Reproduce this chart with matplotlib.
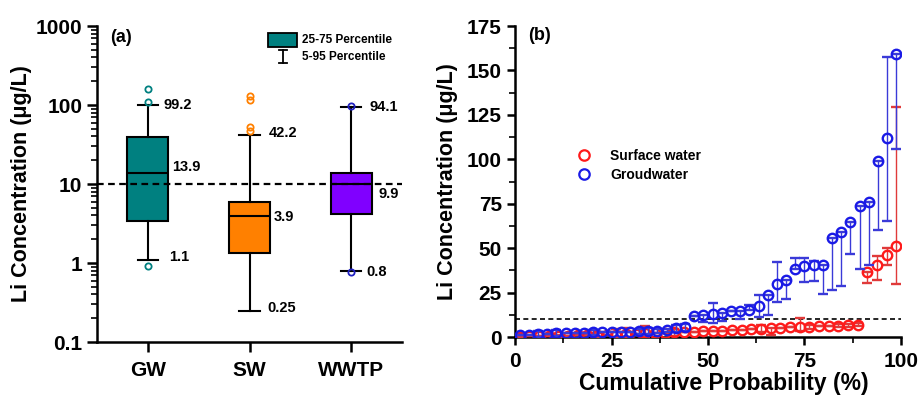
import matplotlib
matplotlib.use('Agg')
import matplotlib.pyplot as plt
from matplotlib.patches import Rectangle
from matplotlib.lines import Line2D
import numpy as np

plt.rcParams['font.family'] = ['Liberation Sans', 'DejaVu Sans']
plt.rcParams['font.weight'] = 'bold'

# ---- panel (a): box statistics ----
groups = ['GW', 'SW', 'WWTP']
q1 = [3.4, 1.34, 4.17]
med = [13.9, 3.9, 9.9]
q3 = [39.4, 5.9, 13.8]
p5 = [1.1, 0.25, 0.8]
p95 = [99.2, 42.2, 94.1]
fliers = [[0.91, 109, 159], [47, 52, 116, 130], [0.77, 97]]
box_colors = ['#008080', '#ff8000', '#8000ff']
flier_colors = ['#008080', '#ff8000', '#2020c0']
lab_hi = ['99.2', '42.2', '94.1']
lab_med = ['13.9', '3.9', '9.9']
lab_lo = ['1.1', '0.25', '0.8']

# ---- panel (b): cumulative probability series ----
gw_x = [1.2, 3.6, 6.0, 8.3, 10.7, 13.1, 15.5, 17.9, 20.2, 22.6, 25.0, 27.4, 29.8, 32.1,
        34.5, 36.9, 39.3, 41.7, 44.0, 46.4, 48.8, 51.2, 53.6, 56.0, 58.3, 60.7, 63.1, 65.5,
        67.9, 70.2, 72.6, 75.0, 77.4, 79.8, 82.1, 84.5, 86.9, 89.3, 91.7, 94.0, 96.4, 98.8]
gw_y = [1.3, 1.3, 1.7, 1.5, 2.2, 2.2, 2.4, 2.4, 2.6, 2.6, 2.6, 2.6, 2.8, 3.2,
        3.4, 3.4, 3.7, 5.0, 5.6, 11.6, 12.5, 12.9, 13.3, 14.4, 14.4, 15.2, 17.4, 23.4,
        30.0, 32.2, 38.2, 39.7, 40.3, 40.3, 55.5, 59.0, 64.5, 73.8, 75.9, 99.0, 112.0, 159.3]
gw_lo = [0, 0, 1.5, 0, 1.5, 0, 0, 0, 1.5, 0, 0, 0, 0, 1.5,
         1.5, 1.0, 1.0, 2.0, 2.0, 0, 4.0, 5.0, 4.0, 0, 4.0, 0, 6.0, 11.0,
         10.0, 11.0, 0, 8.7, 8.6, 16.0, 29.0, 30.0, 17.8, 35.6, 35.2, 38.7, 46.6, 53.6]
gw_hi = [0, 0, 1.5, 0, 1.5, 0, 0, 0, 1.5, 0, 0, 0, 0, 1.5,
         1.5, 1.0, 1.0, 2.0, 2.0, 0, 0, 6.1, 0, 0, 0, 3.0, 6.0, 0,
         12.0, 0, 6.0, 5.0, 2.5, 0, 0, 0, 0, 0, 0, 0, 45.8, 0]

sw_x = [1.25, 3.75, 6.25, 8.75, 11.25, 13.75, 16.25, 18.75, 21.25, 23.75,
        26.25, 28.75, 31.25, 33.75, 36.25, 38.75, 41.25, 43.75, 46.25, 48.75,
        51.25, 53.75, 56.25, 58.75, 61.25, 63.75, 66.25, 68.75, 71.25, 73.75,
        76.25, 78.75, 81.25, 83.75, 86.25, 88.75, 91.25, 93.75, 96.25, 98.75]
sw_y = [0.3, 0.4, 0.5, 0.6, 0.7, 0.8, 0.9, 1.0, 1.1, 1.3,
        1.4, 1.6, 1.8, 2.0, 2.2, 2.4, 2.6, 2.8, 3.0, 3.2,
        3.4, 3.6, 3.8, 4.1, 4.4, 4.7, 5.0, 5.2, 5.4, 5.6,
        5.8, 6.0, 6.2, 6.4, 6.6, 7.0, 36.5, 40.5, 46.0, 51.5]
sw_lo = [0, 0, 0, 0, 0.7, 0, 0, 0, 1.0, 0,
         1.4, 1.6, 0, 2.0, 0, 0, 2.0, 0, 0, 0,
         0, 0, 0, 0, 0, 2.0, 4.0, 0, 0, 2.0,
         1.0, 0, 0, 1.0, 1.0, 1.0, 6.1, 8.3, 5.3, 21.5]
sw_hi = [0, 0, 0, 0, 0.7, 0, 0, 0, 1.0, 0,
         3.0, 3.5, 0, 4.0, 0, 0, 2.0, 0, 0, 0,
         0, 0, 0, 0, 0, 2.0, 0, 0, 0, 5.2,
         1.0, 0, 0, 1.0, 1.0, 1.0, 0, 5.2, 4.0, 78.2]

fig = plt.figure(figsize=(9.19, 3.97), dpi=100)
ax1 = fig.add_axes([0.1055, 0.1385, 0.332, 0.796])
ax2 = fig.add_axes([0.5604, 0.151, 0.42, 0.7835])

# ---------- (a) ----------
stats = []
for i in range(3):
    stats.append(dict(med=med[i], q1=q1[i], q3=q3[i], whislo=p5[i], whishi=p95[i], fliers=[]))
bp = ax1.bxp(stats, positions=[1, 2, 3], widths=0.4, patch_artist=True, showfliers=False,
             boxprops=dict(linewidth=1.5, edgecolor='black'),
             medianprops=dict(color='black', linewidth=1.5),
             whiskerprops=dict(color='black', linewidth=1.5),
             capprops=dict(color='black', linewidth=1.5), capwidths=0.2)
for patch, c in zip(bp['boxes'], box_colors):
    patch.set_facecolor(c)
for i in range(3):
    ax1.plot([i + 1] * len(fliers[i]), fliers[i], 'o', mfc='none', mec=flier_colors[i],
             ms=4.5, mew=1.3, zorder=4)

ax1.axhline(10, color='black', linestyle=(0, (3, 2)), linewidth=1.6, zorder=3)

lab_x_hi = [1.15, 2.19, 3.18]
lab_x_med = [1.24, 2.24, 3.27]
lab_y_med = [16.4, 3.8, 7.5]
lab_x_lo = [1.21, 2.18, 3.15]
lab_y_lo = [1.19, 0.27, 0.77]
lab_y_hi = [99.2, 44, 94]
for i in range(3):
    ax1.text(lab_x_hi[i], lab_y_hi[i], lab_hi[i], fontsize=10.5, fontweight='bold', va='center')
    ax1.text(lab_x_med[i], lab_y_med[i], lab_med[i], fontsize=10.5, fontweight='bold', va='center')
    ax1.text(lab_x_lo[i], lab_y_lo[i], lab_lo[i], fontsize=10.5, fontweight='bold', va='center')

ax1.set_yscale('log')
ax1.set_ylim(0.1, 1000)
ax1.set_xlim(0.5, 3.5)
ax1.set_xticks([1, 2, 3])
ax1.set_xticklabels(groups)
ax1.set_yticks([0.1, 1, 10, 100, 1000])
ax1.set_yticklabels(['0.1', '1', '10', '100', '1000'])
ax1.set_ylabel('Li Concentration (μg/L)', fontsize=15.5, fontweight='bold', labelpad=3)
ax1.spines['top'].set_visible(False)
ax1.spines['right'].set_visible(False)
for s in ['left', 'bottom']:
    ax1.spines[s].set_linewidth(1.8)
ax1.tick_params(axis='both', which='major', labelsize=15, width=1.8, length=7)
ax1.tick_params(axis='x', which='major', pad=7)
ax1.tick_params(axis='y', which='minor', width=1.2, length=4)
for lbl in ax1.get_xticklabels() + ax1.get_yticklabels():
    lbl.set_fontweight('bold')
ax1.text(0.043, 0.965, '(a)', transform=ax1.transAxes, fontsize=13, fontweight='bold', va='center')

# legend of panel (a)
ax1.add_patch(Rectangle((0.561, 0.934), 0.095, 0.044, transform=ax1.transAxes,
                        facecolor='#008080', edgecolor='black', linewidth=1.3, clip_on=False))
ax1.text(0.672, 0.956, '25-75 Percentile', transform=ax1.transAxes, fontsize=8.5,
         fontweight='bold', va='center')
ax1.plot([0.61, 0.61], [0.883, 0.924], transform=ax1.transAxes, color='black', lw=1.3)
ax1.plot([0.597, 0.623], [0.883, 0.883], transform=ax1.transAxes, color='black', lw=1.3)
ax1.plot([0.597, 0.623], [0.924, 0.924], transform=ax1.transAxes, color='black', lw=1.3)
ax1.text(0.672, 0.902, '5-95 Percentile', transform=ax1.transAxes, fontsize=8.5,
         fontweight='bold', va='center')

# ---------- (b) ----------
ax2.axhline(10, color='black', linestyle=(0, (3, 2)), linewidth=1.2, zorder=1)
ax2.errorbar(sw_x, sw_y, yerr=[sw_lo, sw_hi], fmt='o', mfc='none', mec='#ff1a1a', ms=6.8,
             mew=1.7, ecolor='#e03a3a', elinewidth=1.0, capsize=3.5, capthick=1.0,
             label='Surface water', zorder=3)
ax2.errorbar(gw_x, gw_y, yerr=[gw_lo, gw_hi], fmt='o', mfc='none', mec='#1a1ae6', ms=6.8,
             mew=1.7, ecolor='#3a3ad8', elinewidth=1.0, capsize=3.5, capthick=1.0,
             label='Groudwater', zorder=4)
ax2.set_xlim(0, 100)
ax2.set_ylim(0, 175)
ax2.set_xticks([0, 25, 50, 75, 100])
ax2.set_xticks([12.5, 37.5, 62.5, 87.5], minor=True)
ax2.set_yticks(np.arange(0, 176, 25))
ax2.set_yticks(np.arange(12.5, 175, 25), minor=True)
ax2.spines['top'].set_visible(False)
ax2.spines['right'].set_visible(False)
for s in ['left', 'bottom']:
    ax2.spines[s].set_linewidth(1.8)
ax2.tick_params(axis='both', which='major', labelsize=15, width=1.8, length=6)
ax2.tick_params(axis='x', which='major', pad=5)
ax2.tick_params(axis='both', which='minor', width=1.2, length=4)
for lbl in ax2.get_xticklabels() + ax2.get_yticklabels():
    lbl.set_fontweight('bold')
ax2.set_ylabel('Li Concentration (μg/L)', fontsize=15.5, fontweight='bold', labelpad=6)
ax2.set_xlabel('Cumulative Probability (%)', fontsize=16.5, fontweight='bold')
ax2.xaxis.set_label_coords(0.54, -0.112)
ax2.text(0.034, 0.968, '(b)', transform=ax2.transAxes, fontsize=13, fontweight='bold', va='center')

handles = [Line2D([], [], marker='o', ls='none', mfc='none', mec='#ff1a1a', ms=7.5, mew=1.6),
           Line2D([], [], marker='o', ls='none', mfc='none', mec='#1a1ae6', ms=7.5, mew=1.6)]
ax2.legend(handles, ['Surface water', 'Groudwater'], loc='upper left',
           bbox_to_anchor=(0.11, 0.645), frameon=False,
           handletextpad=0.9, labelspacing=0.35, prop=dict(weight='bold', size=10))

fig.savefig('out.png', dpi=100)
